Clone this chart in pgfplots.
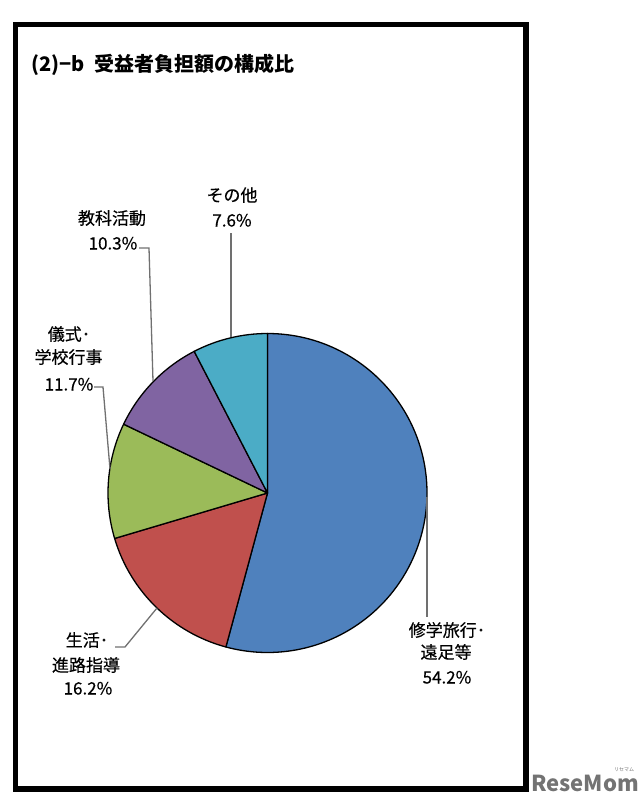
\documentclass[border=0pt]{standalone}
\usepackage{pgfplots}
\pgfplotsset{compat=1.18}
\usepackage{pgfplotstable}
\usepackage{fontspec}
\setmainfont{Noto Sans CJK JP}
\newfontfamily\labfont{Noto Sans CJK JP}[FakeBold=0.4]
\definecolor{sBlue}{HTML}{4F81BD}
\definecolor{sRed}{HTML}{C0504D}
\definecolor{sGreen}{HTML}{9BBB59}
\definecolor{sPurple}{HTML}{8064A2}
\definecolor{sTeal}{HTML}{4BACC6}
\definecolor{leader}{HTML}{707070}

% 構成比 (%), clockwise from 12 o'clock
\pgfplotstableread{
name value
shugaku 54.2
seikatsu 16.2
gishiki 11.7
kyouka 10.3
sonota 7.6
}\piedata

\pgfplotstablegetelem{0}{value}\of\piedata \let\vA\pgfplotsretval
\pgfplotstablegetelem{1}{value}\of\piedata \let\vB\pgfplotsretval
\pgfplotstablegetelem{2}{value}\of\piedata \let\vC\pgfplotsretval
\pgfplotstablegetelem{3}{value}\of\piedata \let\vD\pgfplotsretval
\pgfplotstablegetelem{4}{value}\of\piedata \let\vE\pgfplotsretval
\pgfmathsetmacro\aA{90}
\pgfmathsetmacro\aB{\aA-3.6*\vA}
\pgfmathsetmacro\aC{\aB-3.6*\vB}
\pgfmathsetmacro\aD{\aC-3.6*\vC}
\pgfmathsetmacro\aE{\aD-3.6*\vD}
\pgfmathsetmacro\aF{\aE-3.6*\vE}

\newcommand\lab[3]{\node[anchor=base,inner sep=0pt,font=\labfont\fontsize{17}{20}\selectfont] at (axis cs:#1,#2) {#3};}

\begin{document}
\begin{tikzpicture}
\begin{axis}[
  scale only axis, width=640pt, height=806pt,
  xmin=0, xmax=640, ymin=0, ymax=806, y dir=reverse,
  enlargelimits=false, hide axis, clip=false]
\path (axis cs:0,0) rectangle (axis cs:640,806);
% pie slices
\filldraw[fill=sBlue, draw=black, line width=1.3pt, line join=round]
  (axis cs:267.5,493) -- ++(\aA:159.5pt) arc[start angle=\aA, end angle=\aB, radius=159.5pt] -- cycle;
\filldraw[fill=sRed, draw=black, line width=1.3pt, line join=round]
  (axis cs:267.5,493) -- ++(\aB:159.5pt) arc[start angle=\aB, end angle=\aC, radius=159.5pt] -- cycle;
\filldraw[fill=sGreen, draw=black, line width=1.3pt, line join=round]
  (axis cs:267.5,493) -- ++(\aC:159.5pt) arc[start angle=\aC, end angle=\aD, radius=159.5pt] -- cycle;
\filldraw[fill=sPurple, draw=black, line width=1.3pt, line join=round]
  (axis cs:267.5,493) -- ++(\aD:159.5pt) arc[start angle=\aD, end angle=\aE, radius=159.5pt] -- cycle;
\filldraw[fill=sTeal, draw=black, line width=1.3pt, line join=round]
  (axis cs:267.5,493) -- ++(\aE:159.5pt) arc[start angle=\aE, end angle=\aF, radius=159.5pt] -- cycle;
% leader lines
\draw[leader, line width=1.3pt] (axis cs:231,233) -- (axis cs:231,337);
\draw[leader, line width=1.3pt] (axis cs:139,248) -- (axis cs:149,248) -- (axis cs:153,381);
\draw[leader, line width=1.3pt] (axis cs:94,387) -- (axis cs:103,387) -- (axis cs:110,469);
\draw[leader, line width=1.3pt] (axis cs:115,647) -- (axis cs:125,647) -- (axis cs:157,608);
\draw[leader, line width=1.3pt] (axis cs:427,497) -- (axis cs:427,617);
% labels
\lab{232}{201.5}{その他}
\lab{232}{226.5}{7.6\%}
\lab{112}{224.5}{教科活動}
\lab{113}{249.5}{10.3\%}
\lab{69}{340.5}{儀式･}
\lab{68.5}{363.5}{学校行事}
\lab{69}{390.5}{11.7\%}
\lab{87}{646.5}{生活･}
\lab{86}{671.5}{進路指導}
\lab{88}{694.5}{16.2\%}
\lab{447}{636.5}{修学旅行･}
\lab{446}{658.5}{遠足等}
\lab{447}{683.5}{54.2\%}
% title
\node[anchor=base west, inner sep=0pt, font=\fontsize{20}{24}\selectfont\bfseries] at (axis cs:31,71) {(2)−b\hspace{0.5em}受益者負担額の構成比};
% frame
\draw[line width=5.5pt] (axis cs:15.5,24.5) rectangle (axis cs:526,789);
% watermark
\node[anchor=base, inner sep=0pt, text=black!55, font=\fontsize{22}{24}\selectfont\bfseries] at (axis cs:585,791) {ReseMom};
\node[anchor=base, inner sep=0pt, text=black!55, font=\fontsize{5}{6}\selectfont] at (axis cs:624,771) {リセマム};
\end{axis}
\end{tikzpicture}
\end{document}
